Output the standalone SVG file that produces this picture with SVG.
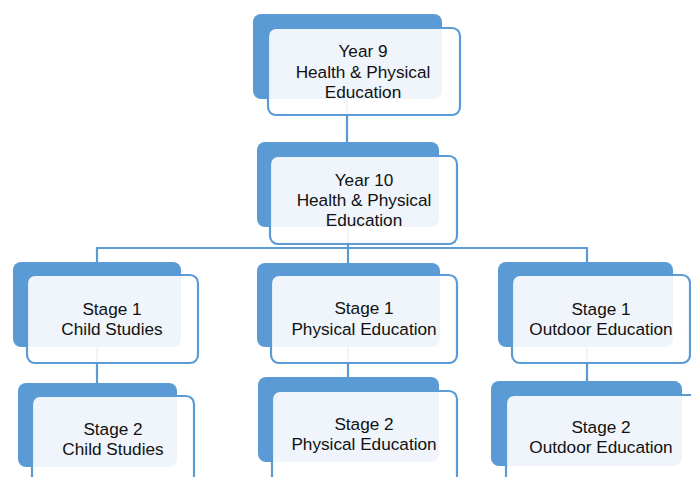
<svg xmlns="http://www.w3.org/2000/svg" width="691" height="477" viewBox="0 0 691 477">
<style>
.back{fill:#5B9BD5}
.front{fill:#ffffff;fill-opacity:0.9;stroke:#5B9BD5;stroke-width:2.2}
.conn{stroke:#5B9BD5;stroke-width:2.2;fill:none}
text{font-family:"Liberation Sans",Arial,sans-serif;font-size:17.2px;fill:#111;text-anchor:middle}
</style>
<rect width="691" height="477" fill="#ffffff"/>
<g id="connectors">
<path class="conn" d="M347,99 V143"/>
<path class="conn" d="M348,227 V248"/>
<path class="conn" d="M97,262 V248 H587 V262"/>
<path class="conn" d="M348,248 V263"/>
<path class="conn" d="M97,347 V383"/>
<path class="conn" d="M348,347 V377"/>
<path class="conn" d="M587,347 V381"/>
</g>
<g id="year9">
<rect class="back" x="253" y="14" width="189" height="85" rx="8"/>
<rect class="front" x="268" y="28" width="192" height="87" rx="8"/>
<text x="363" y="57">Year 9</text>
<text x="363" y="77.5">Health &amp; Physical</text>
<text x="363" y="98">Education</text>
</g>
<g id="year10">
<rect class="back" x="257" y="142" width="182" height="85" rx="8"/>
<rect class="front" x="270" y="156" width="187" height="88" rx="8"/>
<text x="364" y="186">Year 10</text>
<text x="364" y="206">Health &amp; Physical</text>
<text x="364" y="226">Education</text>
</g>
<g id="s1child">
<rect class="back" x="13" y="262" width="168" height="85" rx="8"/>
<rect class="front" x="27" y="275" width="171" height="88" rx="8"/>
<text x="112" y="315">Stage 1</text>
<text x="112" y="335">Child Studies</text>
</g>
<g id="s2child">
<rect class="back" x="18" y="383" width="159" height="84" rx="8"/>
<rect class="front" x="32" y="396" width="162" height="100" rx="8"/>
<text x="113" y="435">Stage 2</text>
<text x="113" y="455">Child Studies</text>
</g>
<g id="s1pe">
<rect class="back" x="257" y="263" width="183" height="84" rx="8"/>
<rect class="front" x="271" y="275" width="186" height="88" rx="8"/>
<text x="364" y="314">Stage 1</text>
<text x="364" y="335">Physical Education</text>
</g>
<g id="s2pe">
<rect class="back" x="258" y="377" width="181" height="85" rx="8"/>
<rect class="front" x="272" y="391" width="185" height="100" rx="8"/>
<text x="364" y="430">Stage 2</text>
<text x="364" y="450">Physical Education</text>
</g>
<g id="s1oe">
<rect class="back" x="498" y="262" width="175" height="85" rx="8"/>
<rect class="front" x="512" y="275" width="178" height="88" rx="8"/>
<text x="601" y="315">Stage 1</text>
<text x="601" y="335">Outdoor Education</text>
</g>
<g id="s2oe">
<rect class="back" x="491" y="381" width="191" height="85" rx="8"/>
<rect class="front" x="506" y="395" width="200" height="100" rx="8"/>
<text x="601" y="433">Stage 2</text>
<text x="601" y="453">Outdoor Education</text>
</g>
</svg>
